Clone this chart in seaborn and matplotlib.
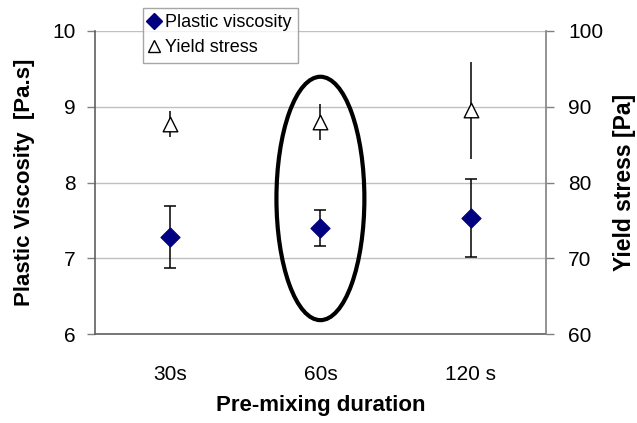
import matplotlib
matplotlib.use("Agg")
import matplotlib.pyplot as plt
from matplotlib.lines import Line2D
from matplotlib.patches import Ellipse
import numpy as np
import pandas as pd
import seaborn as sns

# ── data ──────────────────────────────────────────────────────────────────────
durations = ["30s", "60s", "120 s"]
plastic_viscosity = [7.28, 7.40, 7.53]      # Pa.s
pv_error = [0.41, 0.24, 0.51]
yield_stress = [87.7, 88.0, 89.5]           # Pa
ys_error = [1.7, 2.4, 6.4]

df = pd.DataFrame({
    "duration": durations,
    "pv": plastic_viscosity,
    "pv_err": pv_error,
    "ys": yield_stress,
    "ys_err": ys_error,
})
df["pos"] = np.arange(len(df))

sns.set_style("white")
plt.rcParams["font.family"] = ["Liberation Sans", "DejaVu Sans"]
plt.rcParams.update({"text.color": "black", "axes.labelcolor": "black",
                     "xtick.color": "black", "ytick.color": "black"})

fig = plt.figure(figsize=(6.37, 4.23), dpi=100)
ax = fig.add_axes([0.149, 0.210, 0.708, 0.717])
ax2 = ax.twinx()

# plastic viscosity (left axis)
ax.errorbar(df["pos"], df["pv"], yerr=df["pv_err"], fmt="none",
            ecolor="black", elinewidth=1.1, capsize=4, capthick=1.1, zorder=3)
sns.scatterplot(data=df, x="pos", y="pv", marker="D", s=95, color="#000080",
                edgecolor="#000080", ax=ax, zorder=4, legend=False)

# yield stress (right axis)
ax2.errorbar(df["pos"], df["ys"], yerr=df["ys_err"], fmt="none",
             ecolor="black", elinewidth=1.1, capsize=0, zorder=3)
sns.scatterplot(data=df, x="pos", y="ys", marker="^", s=110, color="white",
                edgecolor="black", linewidth=1.0, ax=ax2, zorder=4, legend=False)
ax2.set_ylabel("")

# highlight around 60s
ax.add_patch(Ellipse((1, 7.79), width=0.585, height=3.21, fill=False,
                     edgecolor="black", lw=3, zorder=5, clip_on=False))

ax.set_xlim(-0.5, 2.5)
ax.set_ylim(6, 10)
ax2.set_ylim(60, 100)
ax.set_yticks([6, 7, 8, 9, 10])
ax2.set_yticks([60, 70, 80, 90, 100])

ax.set_xticks(df["pos"])
ax.set_xticklabels(durations)
ax.set_xticks([-0.5, 0.5, 1.5, 2.5], minor=True)
ax.tick_params(axis="x", which="major", length=0, pad=22, labelsize=15)
ax.tick_params(axis="x", which="minor", length=6, width=1, color="#808080", direction="out")
ax.tick_params(axis="y", length=6, width=1, color="#808080", labelcolor="black",
               direction="out", pad=8, labelsize=15)
ax2.tick_params(axis="y", length=6, width=1, color="#808080", labelcolor="black",
                direction="out", pad=10, labelsize=15)

ax.yaxis.grid(True, color="#c0c0c0", lw=1)
ax.set_axisbelow(True)

for sp in ["left", "bottom"]:
    ax.spines[sp].set_color("#606060")
    ax.spines[sp].set_linewidth(1.2)
ax.spines["top"].set_visible(False)
ax.spines["right"].set_visible(False)
ax2.spines["top"].set_visible(False)
ax2.spines["left"].set_visible(False)
ax2.spines["bottom"].set_visible(False)
ax2.spines["right"].set_color("#808080")
ax2.spines["right"].set_linewidth(1.2)

ax.set_xlabel("Pre-mixing duration", fontsize=16, fontweight="bold", labelpad=8)
ax.set_ylabel("Plastic Viscosity  [Pa.s]", fontsize=16, fontweight="bold", labelpad=12)
fig.text(625 / 637, 1 - 182 / 423, "Yield stress [Pa]", rotation=90, ha="center",
         va="center", fontsize=16.5, fontweight="bold")

handles = [
    Line2D([], [], ls="none", marker="D", markersize=8, color="#000080"),
    Line2D([], [], ls="none", marker="^", markersize=9, markerfacecolor="white",
           markeredgecolor="black"),
]
leg = fig.legend(handles, ["Plastic viscosity", "Yield stress"],
                 loc="upper left", bbox_to_anchor=(0.224, 0.981), fontsize=13,
                 frameon=True, fancybox=False, edgecolor="#909090",
                 handlelength=0.6, handletextpad=0.3, borderpad=0.35,
                 labelspacing=0.45, borderaxespad=0)
leg.get_frame().set_linewidth(1)

fig.savefig("out.png", dpi=100)
